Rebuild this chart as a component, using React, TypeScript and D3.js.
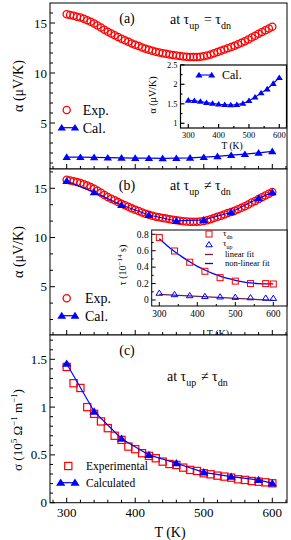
import React from 'react';
import * as d3 from 'd3';

const FONT = '"Liberation Serif", "Times New Roman", serif';
const RED = '#ff0000';
const BLUE = '#0000ff';

// (a),(b) experimental Seebeck coefficient
const expT = [300, 305, 310, 315, 320, 325, 330, 335, 340, 345, 350, 355, 360, 365, 370, 375, 380, 385, 390, 395,
  400, 405, 410, 415, 420, 425, 430, 435, 440, 445, 450, 455, 460, 465, 470, 475, 480, 485, 490, 495,
  500, 505, 510, 515, 520, 525, 530, 535, 540, 545, 550, 555, 560, 565, 570, 575, 580, 585, 590, 595, 600];
const expAlpha = [15.87, 15.8, 15.72, 15.63, 15.55, 15.42, 15.28, 15.12, 14.95, 14.75, 14.55, 14.33, 14.12, 13.95, 13.78, 13.6, 13.42, 13.28, 13.12, 12.96,
  12.82, 12.7, 12.55, 12.42, 12.32, 12.22, 12.12, 12.05, 11.98, 11.92, 11.86, 11.8, 11.75, 11.7, 11.65, 11.62, 11.6, 11.6, 11.61, 11.63,
  11.68, 11.75, 11.85, 11.97, 12.1, 12.22, 12.35, 12.48, 12.6, 12.72, 12.88, 13.02, 13.18, 13.35, 13.55, 13.72, 13.92, 14.1, 14.28, 14.45, 14.62];

// (a) calculated, tau_up = tau_dn
const calT = [300, 320, 340, 360, 380, 400, 420, 440, 460, 480, 500, 520, 540, 560, 580, 600];
const calAlpha = [1.59, 1.58, 1.56, 1.53, 1.51, 1.49, 1.48, 1.47, 1.48, 1.51, 1.58, 1.67, 1.78, 1.88, 2.02, 2.17];

// (b) calculated, tau_up != tau_dn
const calBT = [300, 340, 380, 420, 460, 500, 540, 580, 600];
const calBAlpha = [15.74, 14.59, 13.3, 12.29, 11.68, 11.78, 12.56, 13.98, 14.59];

// (b) inset: relaxation times
const tauT = [300, 340, 380, 420, 460, 500, 540, 580, 600];
const tauDn = [0.76, 0.597, 0.46, 0.35, 0.272, 0.23, 0.2, 0.2, 0.195];
const tauUp = [0.085, 0.068, 0.055, 0.045, 0.04, 0.035, 0.03, 0.025, 0.022];
const linFitT = [300, 600];
const linFitTau = [0.068, -0.004];
const fitT = [300, 320, 340, 360, 380, 400, 420, 440, 460, 480, 500, 520, 540, 560, 580, 600];
const fitTau = [0.745, 0.665, 0.59, 0.525, 0.465, 0.41, 0.365, 0.325, 0.29, 0.262, 0.24, 0.222, 0.208, 0.2, 0.196, 0.196];

// (c) conductivity
const sigT = [300, 310, 320, 330, 340, 350, 360, 370, 380, 390, 400, 410, 420, 430, 440, 450, 460, 470, 480, 490,
  500, 510, 520, 530, 540, 550, 560, 570, 580, 590, 600];
const sigExp = [1.42, 1.25, 1.2, 1.0, 0.93, 0.85, 0.78, 0.7, 0.657, 0.587, 0.56, 0.518, 0.49, 0.465, 0.43, 0.405, 0.395, 0.367, 0.343, 0.332,
  0.308, 0.297, 0.283, 0.273, 0.262, 0.245, 0.238, 0.227, 0.22, 0.213, 0.203];
const sigCalT = [300, 340, 380, 420, 460, 500, 540, 580, 600];
const sigCal = [1.454, 0.954, 0.67, 0.5, 0.413, 0.318, 0.273, 0.238, 0.203];

const xMajor = [300, 400, 500, 600];
const xMinorMain = [280, 320, 340, 360, 380, 420, 440, 460, 480, 520, 540, 560, 580, 620];
const xMinorInset = [350, 450, 550];

type Lin = d3.ScaleLinear<number, number>;

const tri = (x: number, y: number, s: number) =>
  `M${x},${y - s}L${x + s * 1.1},${y + s * 0.75}L${x - s * 1.1},${y + s * 0.75}Z`;

interface BoxProps {
  xs: Lin; ys: Lin;
  left: number; right: number; top: number; bottom: number;
  yMajor: number[]; yMinor: number[]; xMinor: number[];
  yFmt: (v: number) => string;
  xLabels: boolean; fs: number; majLen: number; minLen: number; sw: number;
}

function Box(p: BoxProps) {
  const inY = (v: number) => p.ys(v) >= p.top - 0.5 && p.ys(v) <= p.bottom + 0.5;
  const inX = (v: number) => p.xs(v) >= p.left && p.xs(v) <= p.right;
  return (
    <g>
      <rect x={p.left} y={p.top} width={p.right - p.left} height={p.bottom - p.top} fill="#fff" stroke="#000" strokeWidth={p.sw} />
      {p.yMajor.filter(inY).map(v => (
        <g key={'ym' + v}>
          <line x1={p.left} x2={p.left + p.majLen} y1={p.ys(v)} y2={p.ys(v)} stroke="#000" strokeWidth={p.sw} />
          <text x={p.left - 3} y={p.ys(v)} dy="0.35em" textAnchor="end" fontSize={p.fs}>{p.yFmt(v)}</text>
        </g>
      ))}
      {p.yMinor.filter(inY).map(v => (
        <line key={'yn' + v} x1={p.left} x2={p.left + p.minLen} y1={p.ys(v)} y2={p.ys(v)} stroke="#000" strokeWidth={p.sw} />
      ))}
      {xMajor.filter(inX).map(v => (
        <g key={'xm' + v}>
          <line x1={p.xs(v)} x2={p.xs(v)} y1={p.bottom} y2={p.bottom - p.majLen} stroke="#000" strokeWidth={p.sw} />
          {p.xLabels && <text x={p.xs(v)} y={p.bottom + p.fs + 1} textAnchor="middle" fontSize={p.fs}>{v}</text>}
        </g>
      ))}
      {p.xMinor.filter(inX).map(v => (
        <line key={'xn' + v} x1={p.xs(v)} x2={p.xs(v)} y1={p.bottom} y2={p.bottom - p.minLen} stroke="#000" strokeWidth={p.sw} />
      ))}
    </g>
  );
}

const Sub = ({ children, fs }: { children: React.ReactNode; fs: number }) => (
  <>
    <tspan fontSize={fs} dy={fs * 0.45}>{children}</tspan>
    <tspan dy={-fs * 0.45}>{'\u200a'}</tspan>
  </>
);

export default function App() {
  const xMain = d3.scaleLinear().domain([300, 600]).range([66.7, 272.3]);
  const yA = d3.scaleLinear().domain([5, 15]).range([123, 23]);
  const yB = d3.scaleLinear().domain([5, 15]).range([286.7, 188.3]);
  const yC = d3.scaleLinear().domain([0, 1.5]).range([502.7, 359.3]);
  const xIA = d3.scaleLinear().domain([300, 600]).range([188.3, 279.3]);
  const yIA = d3.scaleLinear().domain([1, 2]).range([123.3, 84.3]);
  const xIB = d3.scaleLinear().domain([300, 600]).range([159.3, 273.3]);
  const yIB = d3.scaleLinear().domain([0, 0.8]).range([300, 234.3]);

  const L = 50, R = 287;

  const lineA = d3.line<number>().x((_, i) => xMain(calT[i])).y(d => yA(d));
  const lineIA = d3.line<number>().x((_, i) => xIA(calT[i])).y(d => yIA(d));
  const lineB = d3.line<number>().x((_, i) => xMain(calBT[i])).y(d => yB(d));
  const lineFit = d3.line<number>().x((_, i) => xIB(fitT[i])).y(d => yIB(d)).curve(d3.curveMonotoneX);
  const lineLin = d3.line<number>().x((_, i) => xIB(linFitT[i])).y(d => yIB(d));
  const lineC = d3.line<number>().x((_, i) => xMain(sigCalT[i])).y(d => yC(d));

  const range = (a: number, b: number, s: number) => d3.range(a, b + s / 2, s);

  return (
    <svg width={291} height={540} style={{ position: 'absolute', left: 0, top: 0 }} fontFamily={FONT}>
      <rect width={291} height={540} fill="#fff" />

      {/* ---------- panel (a) ---------- */}
      <Box xs={xMain} ys={yA} left={L} right={R} top={3} bottom={169}
        yMajor={[5, 10, 15]} yMinor={range(1, 16, 1).filter(v => v % 5 !== 0)} xMinor={xMinorMain}
        yFmt={v => String(v)} xLabels={false} fs={13} majLen={5} minLen={3} sw={1} />
      <g fill="none" stroke={RED} strokeWidth={1.3}>
        {expAlpha.map((v, i) => <circle key={i} cx={xMain(expT[i])} cy={yA(v)} r={3.6} />)}
      </g>
      <path d={lineA(calAlpha) || ''} fill="none" stroke={BLUE} strokeWidth={1.2} />
      {calAlpha.map((v, i) => <path key={i} d={tri(xMain(calT[i]), yA(v), 3.8)} fill={BLUE} />)}
      <text x={127} y={23} textAnchor="middle" fontSize={14}>(a)</text>
      <text x={170} y={24} fontSize={14}>at τ<Sub fs={10}>up</Sub> = τ<Sub fs={10}>dn</Sub></text>
      <text x={18} y={86} transform="rotate(-90,18,86)" textAnchor="middle" dy="0.35em" fontSize={14}>α (μV/K)</text>
      {/* legend (a) */}
      <circle cx={66.7} cy={110} r={3.6} fill="none" stroke={RED} strokeWidth={1.3} />
      <text x={82.7} y={110} dy="0.35em" fontSize={14}>Exp.</text>
      <line x1={61.7} x2={75} y1={127.7} y2={127.7} stroke={BLUE} strokeWidth={1.2} />
      <path d={tri(61.7, 127.7, 3.8)} fill={BLUE} />
      <path d={tri(75, 127.7, 3.8)} fill={BLUE} />
      <text x={82.7} y={127.7} dy="0.35em" fontSize={14}>Cal.</text>

      {/* inset (a) */}
      <Box xs={xIA} ys={yIA} left={180.5} right={286.5} top={65} bottom={128}
        yMajor={[1, 1.5, 2, 2.5]} yMinor={[1.25, 1.75, 2.25]} xMinor={xMinorInset}
        yFmt={v => String(v)} xLabels={true} fs={8.5} majLen={4} minLen={2} sw={1.2} />
      <path d={lineIA(calAlpha) || ''} fill="none" stroke={BLUE} strokeWidth={1.1} />
      {calAlpha.map((v, i) => <path key={i} d={tri(xIA(calT[i]), yIA(v), 3.2)} fill={BLUE} />)}
      <line x1={199} x2={211.7} y1={75} y2={75} stroke={BLUE} strokeWidth={1.1} />
      <path d={tri(199, 75, 3.2)} fill={BLUE} />
      <path d={tri(211.7, 75, 3.2)} fill={BLUE} />
      <text x={222} y={75} dy="0.35em" fontSize={12}>Cal.</text>
      <text x={232} y={146} dy="0.35em" textAnchor="middle" fontSize={9.5}>T (K)</text>
      <text x={152} y={95} transform="rotate(-90,152,95)" textAnchor="middle" dy="0.35em" fontSize={10}>α (μV/K)</text>

      {/* ---------- panel (b) ---------- */}
      <Box xs={xMain} ys={yB} left={L} right={R} top={169} bottom={335}
        yMajor={[5, 10, 15]} yMinor={[5 / 3, 10 / 3, 20 / 3, 25 / 3, 35 / 3, 40 / 3, 50 / 3]} xMinor={xMinorMain}
        yFmt={v => String(v)} xLabels={false} fs={13} majLen={5} minLen={3} sw={1} />
      <g fill="none" stroke={RED} strokeWidth={1.3}>
        {expAlpha.map((v, i) => <circle key={i} cx={xMain(expT[i])} cy={yB(v)} r={3.6} />)}
      </g>
      <path d={lineB(calBAlpha) || ''} fill="none" stroke={BLUE} strokeWidth={1.2} />
      {calBAlpha.map((v, i) => <path key={i} d={tri(xMain(calBT[i]), yB(v), 4)} fill={BLUE} />)}
      <text x={127} y={190} textAnchor="middle" fontSize={14}>(b)</text>
      <text x={170} y={190} fontSize={14}>at τ<Sub fs={10}>up</Sub> ≠ τ<Sub fs={10}>dn</Sub></text>
      <text x={18} y={252} transform="rotate(-90,18,252)" textAnchor="middle" dy="0.35em" fontSize={14}>α (μV/K)</text>
      <circle cx={66.7} cy={298.3} r={3.6} fill="none" stroke={RED} strokeWidth={1.3} />
      <text x={85} y={298.3} dy="0.35em" fontSize={14}>Exp.</text>
      <line x1={61.7} x2={75} y1={315.7} y2={315.7} stroke={BLUE} strokeWidth={1.2} />
      <path d={tri(61.7, 315.7, 4)} fill={BLUE} />
      <path d={tri(75, 315.7, 4)} fill={BLUE} />
      <text x={85} y={315.7} dy="0.35em" fontSize={14}>Cal.</text>

      {/* inset (b) */}
      <Box xs={xIB} ys={yIB} left={151.7} right={287} top={230} bottom={306}
        yMajor={[0, 0.2, 0.4, 0.6, 0.8]} yMinor={[0.1, 0.3, 0.5, 0.7]} xMinor={xMinorInset}
        yFmt={v => String(v)} xLabels={true} fs={9.5} majLen={4} minLen={2} sw={1} />
      <path d={lineFit(fitTau) || ''} fill="none" stroke={BLUE} strokeWidth={1.3} />
      <path d={lineLin(linFitTau) || ''} fill="none" stroke="#6b1f4f" strokeWidth={1.3} />
      {tauDn.map((v, i) => <rect key={i} x={xIB(tauT[i]) - 3} y={yIB(v) - 3} width={6} height={6} fill="none" stroke={RED} strokeWidth={1} />)}
      {tauUp.map((v, i) => <path key={i} d={tri(xIB(tauT[i]), yIB(v), 3)} fill="none" stroke={BLUE} strokeWidth={1} />)}
      <rect x={206} y={231} width={6} height={6} fill="none" stroke={RED} strokeWidth={1} />
      <text x={223} y={233.5} dy="0.35em" fontSize={8.5}>τ<Sub fs={6}>dn</Sub></text>
      <path d={tri(209, 244.5, 3)} fill="none" stroke={BLUE} strokeWidth={1} />
      <text x={223} y={243.5} dy="0.35em" fontSize={8.5}>τ<Sub fs={6}>up</Sub></text>
      <line x1={205} x2={213} y1={254.5} y2={254.5} stroke="#6b1f4f" strokeWidth={1.3} />
      <text x={225} y={254.5} dy="0.35em" fontSize={8.5}>linear fit</text>
      <line x1={205} x2={213} y1={263.5} y2={263.5} stroke={BLUE} strokeWidth={1.3} />
      <text x={225} y={263.5} dy="0.35em" fontSize={8.5}>non-linear fit</text>
      <text x={218} y={337} textAnchor="middle" fontSize={10}>T (K)</text>
      <text x={122} y={265} transform="rotate(-90,122,265)" textAnchor="middle" dy="0.35em" fontSize={10}>
        τ (10<tspan fontSize={7} dy={-4}>−14</tspan><tspan dy={4}> s)</tspan>
      </text>

      {/* ---------- panel (c) ---------- */}
      <Box xs={xMain} ys={yC} left={L} right={R} top={335} bottom={502.7}
        yMajor={[0, 0.5, 1, 1.5]} yMinor={[0.1, 0.2, 0.3, 0.4, 0.6, 0.7, 0.8, 0.9, 1.1, 1.2, 1.3, 1.4, 1.6, 1.7]} xMinor={xMinorMain}
        yFmt={v => String(v)} xLabels={true} fs={13} majLen={5} minLen={3} sw={1} />
      {sigExp.map((v, i) => <rect key={i} x={xMain(sigT[i]) - 3.6} y={yC(v) - 3.6} width={7.2} height={7.2} fill="none" stroke={RED} strokeWidth={1.2} />)}
      <path d={lineC(sigCal) || ''} fill="none" stroke={BLUE} strokeWidth={1.2} />
      {sigCal.map((v, i) => <path key={i} d={tri(xMain(sigCalT[i]), yC(v), 4.2)} fill={BLUE} />)}
      <text x={127} y={355} textAnchor="middle" fontSize={14}>(c)</text>
      <text x={167} y={381} fontSize={14}>at  τ<Sub fs={10}>up</Sub> ≠ τ<Sub fs={10}>dn</Sub></text>
      <text x={17} y={430} transform="rotate(-90,17,430)" textAnchor="middle" dy="0.35em" fontSize={13}>
        σ (10<tspan fontSize={9} dy={-5}>5</tspan><tspan dy={5}> Ω</tspan><tspan fontSize={9} dy={-5}>−1</tspan><tspan dy={5}> m</tspan><tspan fontSize={9} dy={-5}>−1</tspan><tspan dy={5}>)</tspan>
      </text>
      <rect x={64.7} y={462.4} width={7.2} height={7.2} fill="none" stroke={RED} strokeWidth={1.2} />
      <text x={86} y={466} dy="0.35em" fontSize={11.5}>Experimental</text>
      <line x1={60.7} x2={75} y1={482.7} y2={482.7} stroke={BLUE} strokeWidth={1.2} />
      <path d={tri(60.7, 482.7, 4.2)} fill={BLUE} />
      <path d={tri(75, 482.7, 4.2)} fill={BLUE} />
      <text x={86} y={482.7} dy="0.35em" fontSize={11.5}>Calculated</text>
      <text x={170} y={537} textAnchor="middle" fontSize={14}>T (K)</text>
    </svg>
  );
}
